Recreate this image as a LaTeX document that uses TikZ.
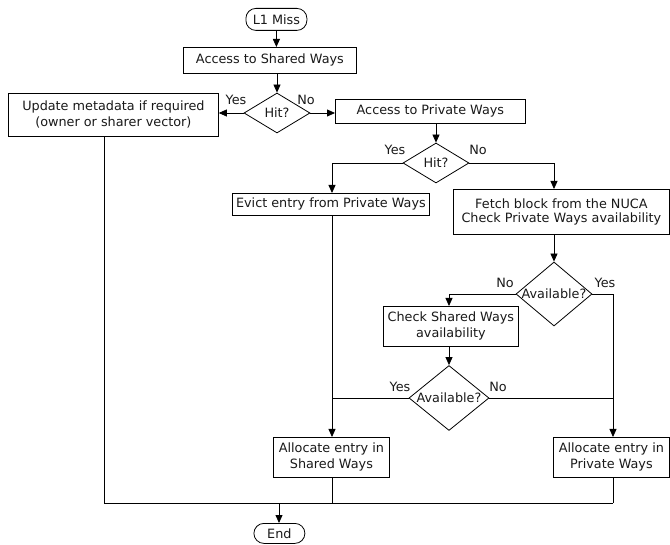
\documentclass[tikz,border=0pt]{standalone}
\usepackage{fontspec}
\setmainfont{DejaVu Sans}
\usetikzlibrary{arrows.meta,shapes.geometric}
\begin{document}
\begin{tikzpicture}[x=1pt,y=-1pt,
  every node/.style={font=\fontsize{12.8}{16}\selectfont, text=black!90},
  proc/.style={draw, line width=0.8pt, inner sep=0pt, align=center, anchor=north west},
  term/.style={draw, line width=0.8pt, rounded corners=10pt, inner sep=0pt, anchor=north west},
  dec/.style={draw, line width=0.8pt, shape=diamond, inner sep=0pt, aspect=1},
  lbl/.style={inner sep=0pt},
  conn/.style={line width=0.8pt},
  arr/.style={line width=0.8pt, -{Triangle[length=8pt,width=7pt]}}
]
\useasboundingbox (0,0) rectangle (670,545);

% terminals
\node[term, minimum width=61pt, minimum height=22pt] (miss) at (245.5,8) {L1 Miss};
\node[term, minimum width=51pt, minimum height=20pt] (end) at (253.5,523) {End};

% process boxes
\node[proc, minimum width=173pt, minimum height=26pt] (shared) at (183,47) {Access to Shared Ways};
\node[proc, minimum width=210pt, minimum height=43pt] (update) at (8,93) {Update metadata if required\\(owner or sharer vector)};
\node[proc, minimum width=190pt, minimum height=24pt] (private) at (335,99) {Access to Private Ways};
\node[proc, minimum width=197pt, minimum height=22pt] (evict) at (232,193) {Evict entry from Private Ways};
\node[proc, minimum width=216pt, minimum height=45pt, font=\fontsize{12.8}{14}\selectfont] (fetch) at (453,189) {Fetch block from the NUCA\\Check Private Ways availability};
\node[proc, minimum width=135pt, minimum height=40pt] (checksh) at (383,306) {Check Shared Ways\\availability};
\node[proc, minimum width=116pt, minimum height=40pt] (allocsh) at (273,437) {Allocate entry in\\Shared Ways};
\node[proc, minimum width=116pt, minimum height=40pt] (allocpr) at (553,437) {Allocate entry in\\Private Ways};

% decisions
\node[dec, minimum width=66pt, minimum height=40pt] (hit1) at (277,113) {};
\node[lbl] at (hit1.center) {Hit?};
\node[dec, minimum width=66pt, minimum height=40pt] (hit2) at (436,163) {};
\node[lbl] at (hit2.center) {Hit?};
\node[dec, minimum width=76pt, minimum height=64pt] (av1) at (554,294) {};
\node[lbl] at (av1.center) {Available?};
\node[dec, minimum width=80pt, minimum height=65pt] (av2) at (449,398) {};
\node[lbl] at (av2.center) {Available?};

% branch labels
\node[lbl] at (236,100) {Yes};
\node[lbl] at (306,100) {No};
\node[lbl] at (395,150) {Yes};
\node[lbl] at (478,150) {No};
\node[lbl] at (505,283) {No};
\node[lbl] at (605,283) {Yes};
\node[lbl] at (400,387) {Yes};
\node[lbl] at (498,387) {No};

% helper coordinates
\coordinate (xa) at (277,0);
\coordinate (xe) at (332,0);
\coordinate (xf) at (554,0);
\coordinate (xc) at (449,0);
\coordinate (xp) at (613,0);
\coordinate (jl) at (332,398);
\coordinate (jr) at (613,398);
\coordinate (b0) at (104,503);
\coordinate (bs) at (332,503);
\coordinate (bp) at (613,503);
\coordinate (be) at (279,503);

% connectors
\draw[arr] (miss.south) -- (shared.north -| miss.south);
\draw[arr] (shared.south -| xa) -- (hit1.north);
\draw[arr] (hit1.west) -- (update.east |- hit1.west);
\draw[arr] (hit1.east) -- (private.west |- hit1.east);
\draw[arr] (private.south -| hit2.north) -- (hit2.north);
\draw[arr] (hit2.west) -| (evict.north -| xe);
\draw[arr] (hit2.east) -| (fetch.north -| xf);
\draw[arr] (fetch.south -| av1.north) -- (av1.north);
\draw[arr] (av1.west) -| (checksh.north -| xc);
\draw[arr] (checksh.south -| av2.north) -- (av2.north);
\draw[conn] (av2.west) -- (jl);
\draw[conn] (av2.east) -- (jr);
\draw[arr] (evict.south -| xe) -- (allocsh.north -| xe);
\draw[arr] (av1.east) -| (allocpr.north -| xp);
\draw[conn] (update.south -| b0) -- (b0) -- (bp);
\draw[conn] (allocsh.south -| bs) -- (bs);
\draw[conn] (allocpr.south -| bp) -- (bp);
\draw[arr] (be) -- (end.north -| be);
\end{tikzpicture}
\end{document}
